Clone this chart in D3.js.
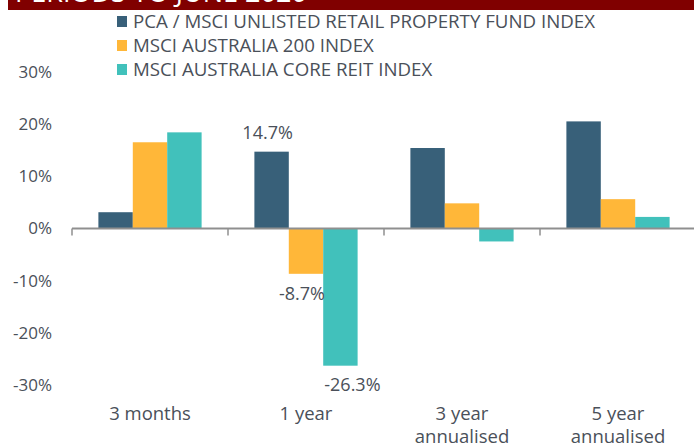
<!DOCTYPE html>
<html>
<head>
<meta charset="utf-8">
<script src="https://cdn.jsdelivr.net/npm/d3@7"></script>
<style>
  html, body { margin: 0; padding: 0; background: #fff; }
  svg { display: block; font-family: "Open Sans", sans-serif; }
</style>
</head>
<body>
<svg id="chart" width="694" height="445"></svg>
<script>
const title = "PERIODS TO JUNE 2020";
const categories = ["3 months", "1 year", "3 year\nannualised", "5 year\nannualised"];
const seriesNames = [
  "PCA / MSCI UNLISTED RETAIL PROPERTY FUND INDEX",
  "MSCI AUSTRALIA 200 INDEX",
  "MSCI AUSTRALIA CORE REIT INDEX"
];
const pcaValues = [3.1, 14.7, 15.4, 20.5];
const asx200Values = [16.5, -8.7, 4.8, 5.6];
const reitValues = [18.4, -26.3, -2.5, 2.2];
const seriesColors = ["#386079", "#FFB739", "#41C1BB"];
const yTicks = [-30, -20, -10, 0, 10, 20, 30];
// only some values carry a data label in the original
const labelled = [
  { series: 0, cat: 1 },
  { series: 1, cat: 1 },
  { series: 2, cat: 1 }
];

const seriesValues = [pcaValues, asx200Values, reitValues];
const svg = d3.select("#chart");
const textColor = "#4a5059";

// title bar (cut off at the top)
svg.append("rect").attr("x", 8).attr("y", 0).attr("width", 686).attr("height", 10).attr("fill", "#800000");
svg.append("text").attr("x", 15).attr("y", 2).attr("fill", "#fff")
  .attr("font-size", 27).text(title);

const x0 = d3.scaleBand().domain(categories).range([72, 696]).paddingInner(0).paddingOuter(0);
const x1 = d3.scaleBand().domain(d3.range(seriesNames.length)).range([0, x0.bandwidth()])
  .paddingInner(0).paddingOuter(0.767);
const y = d3.scaleLinear().domain([-30, 30]).range([385, 71.8]);

// y axis labels
const yAxis = svg.append("g").attr("transform", "translate(52,0)")
  .call(d3.axisLeft(y).tickValues(yTicks).tickSize(0).tickPadding(0).tickFormat(d => d + "%"));
yAxis.select(".domain").remove();
yAxis.selectAll("text").attr("font-size", 17).attr("fill", textColor)
  .attr("font-family", "Open Sans, sans-serif");

// bars
const groups = svg.append("g").selectAll("g").data(categories).join("g")
  .attr("transform", d => `translate(${x0(d)},0)`);
groups.selectAll("rect")
  .data((c, ci) => seriesValues.map((vals, si) => ({ si, v: vals[ci] })))
  .join("rect")
  .attr("x", d => x1(d.si))
  .attr("width", x1.bandwidth())
  .attr("y", d => y(Math.max(0, d.v)))
  .attr("height", d => Math.abs(y(d.v) - y(0)))
  .attr("fill", d => seriesColors[d.si]);

// x axis
const xAxis = svg.append("g").attr("transform", `translate(0,${y(0)})`)
  .call(d3.axisBottom(x0).tickSize(0).tickFormat(""));
xAxis.select(".domain").attr("stroke", "#8f8f8f").attr("stroke-width", 2)
  .attr("d", `M${x0.range()[0]},0H${x0.range()[1]}`);
// tick marks at category boundaries
svg.append("g").selectAll("line").data(categories).join("line")
  .attr("x1", d => x0(d)).attr("x2", d => x0(d))
  .attr("y1", y(0)).attr("y2", y(0) + 7)
  .attr("stroke", "#8f8f8f").attr("stroke-width", 1.5);

// category labels
const catLabels = svg.append("g").selectAll("text").data(categories).join("text")
  .attr("x", d => x0(d) + x0.bandwidth() / 2)
  .attr("y", 420)
  .attr("text-anchor", "middle")
  .attr("font-size", 18.5)
  .attr("fill", textColor);
catLabels.each(function(d) {
  const lines = d.split("\n");
  d3.select(this).selectAll("tspan").data(lines).join("tspan")
    .attr("x", x0(d) + x0.bandwidth() / 2)
    .attr("dy", (l, i) => i === 0 ? 0 : 22.5)
    .text(l => l);
});

// data labels
const labelOffsets = [{ dx: -4, dy: -13 }, { dx: -4, dy: 26 }, { dx: 12, dy: 25 }];
svg.append("g").selectAll("text").data(labelled).join("text")
  .attr("x", d => x0(categories[d.cat]) + x1(d.series) + x1.bandwidth() / 2 + labelOffsets[d.series].dx)
  .attr("y", d => {
    const v = seriesValues[d.series][d.cat];
    return y(v) + labelOffsets[d.series].dy;
  })
  .attr("text-anchor", "middle")
  .attr("font-size", 18)
  .attr("fill", textColor)
  .text(d => seriesValues[d.series][d.cat].toFixed(1) + "%");

// legend
const legend = svg.append("g").selectAll("g").data(seriesNames).join("g")
  .attr("transform", (d, i) => `translate(117,${16 + i * 24})`);
legend.append("rect").attr("width", 10).attr("height", 11).attr("y", 0)
  .attr("fill", (d, i) => seriesColors[i]);
legend.append("text").attr("x", 16).attr("y", 12)
  .attr("font-size", 18.7).attr("fill", textColor).text(d => d);
</script>
</body>
</html>
